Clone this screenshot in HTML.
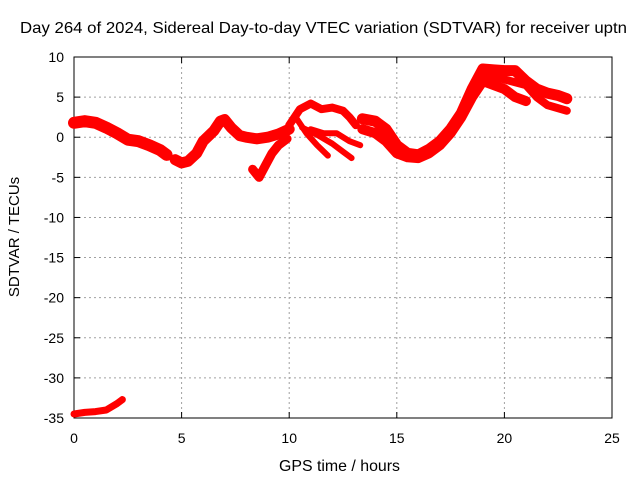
<!DOCTYPE html>
<html><head><meta charset="utf-8"><style>
body{margin:0;background:#fff;font-family:"Liberation Sans",sans-serif}
svg text{font-family:"Liberation Sans",sans-serif;font-size:14px;fill:#000}
</style></head><body>
<svg id="c" width="640" height="480"></svg>
<script>
const xTicks=[0,5,10,15,20,25];
const yTicks=[10,5,0,-5,-10,-15,-20,-25,-30,-35];
const seriesMain=[[0,1.8],[0.5,2],[1,1.8],[1.5,1.2],[2,0.5],[2.5,-0.3],[3,-0.5],[3.5,-1],[4,-1.6],[4.3,-2.2]];
const seriesMid=[[4.7,-2.8],[5,-3.2],[5.3,-3],[5.7,-2],[6,-0.5],[6.5,0.8],[6.8,2],[7,2.2],[7.3,1.2],[7.7,0.2],[8,0],[8.5,-0.2],[9,0],[9.5,0.4],[10,1]];
const seriesDip=[[8.3,-4],[8.6,-5],[8.9,-3.5],[9.2,-2],[9.5,-1],[9.9,-0.2]];
const seriesUpper=[[10,1.5],[10.5,3.5],[11,4.2],[11.5,3.5],[12,3.7],[12.5,3.3],[12.8,2.5],[13.1,1.5]];
const seriesLow1=[[10.3,2.5],[10.8,0.5],[11.3,-1],[11.8,-2.3]];
const seriesLow2=[[10.6,1.2],[11.3,0.3],[12,-0.8],[12.5,-1.8],[12.9,-2.6]];
const seriesLow3=[[11,1],[11.6,0.5],[12.2,0.5],[12.8,-0.5],[13.3,-1]];
const seriesLate1=[[13.4,2.3],[14,2],[14.5,1],[15,-1],[15.5,-2],[16,-2.2],[16.5,-1.5],[17,-0.5],[17.5,1],[18,3],[18.5,6],[19,8.5],[19.5,8.4],[20,8.3],[20.5,8.3],[21,7],[21.5,6],[22,5.5],[22.5,5.2],[22.9,4.8]];
const seriesLate2=[[13.4,1],[14,0.5],[14.5,-0.5],[15,-2],[15.5,-2.5],[16,-2.6],[16.5,-2],[17,-1],[17.5,0.5],[18,2.5],[18.5,5],[19,7],[19.5,6.5],[20,6],[20.5,5],[21,4.5]];
const seriesLate3=[[19.2,7.8],[19.6,7.5],[20,7.2],[21,6.5],[21.5,5],[22,4],[22.9,3.3]];
const seriesLow=[[0,-34.5],[0.5,-34.3],[1,-34.2],[1.5,-34],[2,-33.2],[2.25,-32.7]];
const NS='http://www.w3.org/2000/svg',svg=document.getElementById('c');
const X0=74,X1=612,Y0=57,Y1=418;
const sx=v=>X0+(v-0)/25*(X1-X0), sy=v=>Y0+(10-v)/45*(Y1-Y0);
function mk(t,a,p){const e=document.createElementNS(NS,t);for(const k in a)e.setAttribute(k,a[k]);(p||svg).appendChild(e);return e;}
yTicks.forEach(v=>{
 if(v!==10&&v!==-35){const g=mk('line',{x1:X0,x2:X1,y1:sy(v),y2:sy(v),stroke:'#a0a0a0','stroke-dasharray':'2,3'});
 
 }
 const t=mk('text',{x:X0-10,y:sy(v)+5,'text-anchor':'end'});t.textContent=v;
 
 
 mk('line',{x1:X0,x2:X0+6,y1:sy(v),y2:sy(v),stroke:'#000'});mk('line',{x1:X1,x2:X1-6,y1:sy(v),y2:sy(v),stroke:'#000'});
});
xTicks.forEach(v=>{
 if(v!==0&&v!==25){const g=mk('line',{x1:sx(v),x2:sx(v),y1:Y0,y2:Y1,stroke:'#a0a0a0','stroke-dasharray':'2,3'});
 
 }
 const t=mk('text',{x:sx(v),y:Y1+25,'text-anchor':'middle'});t.textContent=v;
 
 
 mk('line',{x1:sx(v),x2:sx(v),y1:Y1,y2:Y1-6,stroke:'#000'});mk('line',{x1:sx(v),x2:sx(v),y1:Y0,y2:Y0+6,stroke:'#000'});
});
const fr=mk('rect',{x:X0,y:Y0,width:X1-X0,height:Y1-Y0,fill:'none',stroke:'#000'});


const all=[[seriesMain,12],[seriesMid,11],[seriesDip,9],[seriesUpper,8],[seriesLow1,6],[seriesLow2,6],[seriesLow3,6],[seriesLate1,11],[seriesLate2,10],[seriesLate3,8],[seriesLow,7]];
all.forEach(([s,w])=>{
 const p=mk('polyline',{points:s.map(d=>sx(d[0])+','+sy(d[1])).join(' '),fill:'none',stroke:'#ff0000','stroke-width':w,'stroke-linejoin':'round','stroke-linecap':'round'});
 
 
});
const ti=mk('text',{x:20,y:33,textLength:607,lengthAdjust:'spacingAndGlyphs',style:'font-size:16px'});ti.textContent='Day 264 of 2024, Sidereal Day-to-day VTEC variation (SDTVAR) for receiver uptn';


const xl=mk('text',{x:279,y:471,textLength:121,lengthAdjust:'spacingAndGlyphs',style:'font-size:16px'});xl.textContent='GPS time / hours';


const yl=mk('text',{x:19,y:237,'text-anchor':'middle',transform:'rotate(-90 19 237)',style:'font-size:15px'});yl.textContent='SDTVAR / TECUs';


</script>
</body></html>
